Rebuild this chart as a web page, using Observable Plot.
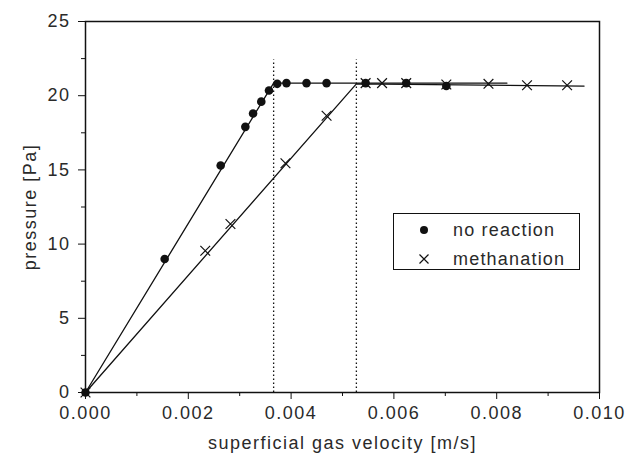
<!DOCTYPE html>
<html>
<head>
<meta charset="utf-8">
<script src="https://cdn.jsdelivr.net/npm/d3@7"></script>
<script src="https://cdn.jsdelivr.net/npm/@observablehq/plot@0.6"></script>
<style>
  html, body { margin: 0; padding: 0; background: #fff; }
  #wrap { position: relative; width: 633px; height: 455px; font-family: "Liberation Sans", Arial, sans-serif; }
  #wrap svg text { letter-spacing: 1.5px; }
  #legend { position: absolute; left: 393px; top: 213px; width: 185px; height: 55px; border: 1.5px solid #111; background: #fff; }
  .row { position: absolute; left: 0; height: 20px; font-size: 18px; color: #2a2a2a; line-height: 20px; letter-spacing: 1.2px; }
  .row svg { position: absolute; left: 22px; top: 2px; }
  .row span { position: absolute; left: 59px; top: 0; white-space: nowrap; }
</style>
</head>
<body>
<div id="wrap"></div>
<script>
// Measured points: no reaction
const noRxnV = [0, 0.00154, 0.00263, 0.00311, 0.00326, 0.00342, 0.00357, 0.00373, 0.00391, 0.00430, 0.00469, 0.00545, 0.00624, 0.00702];
const noRxnP = [0, 9.0, 15.3, 17.9, 18.8, 19.6, 20.35, 20.8, 20.85, 20.85, 20.85, 20.85, 20.85, 20.65];
// Measured points: methanation
const methV = [0, 0.00233, 0.00282, 0.00389, 0.00469, 0.00545, 0.00577, 0.00624, 0.00702, 0.00784, 0.00859, 0.00937];
const methP = [0, 9.55, 11.35, 15.45, 18.65, 20.85, 20.85, 20.85, 20.75, 20.8, 20.7, 20.7];
// Fit lines
const fitNoRxnV = [0, 0.00366, 0.0082];
const fitNoRxnP = [0, 20.85, 20.85];
const fitMethV = [0, 0.00527, 0.0097];
const fitMethP = [0, 20.8, 20.65];
// Minimum fluidization markers (dotted verticals)
const umfV = [0.00366, 0.00527];
const umfTop = 22.4;
// Ticks
const xMajor = [0, 0.002, 0.004, 0.006, 0.008, 0.010];
const xMinor = [0.001, 0.003, 0.005, 0.007, 0.009];
const yMajor = [0, 5, 10, 15, 20, 25];
const yMinor = [2.5, 7.5, 12.5, 17.5, 22.5];

const zip = (xs, ys) => xs.map((x, i) => ({x, y: ys[i]}));
const noRxn = zip(noRxnV, noRxnP);
const meth = zip(methV, methP);
const fitA = zip(fitNoRxnV, fitNoRxnP);
const fitB = zip(fitMethV, fitMethP);

const chart = Plot.plot({
  width: 633,
  height: 455,
  marginLeft: 85,
  marginRight: 34,
  marginTop: 21,
  marginBottom: 63,
  style: {fontFamily: "Liberation Sans, Arial, sans-serif", fontSize: "18px", color: "#2a2a2a", background: "#fff"},
  x: {domain: [0, 0.01]},
  y: {domain: [0, 25]},
  marks: [
    Plot.ruleX(umfV, {x: d => d, y1: 0, y2: umfTop, stroke: "#111", strokeWidth: 1.3, strokeDasharray: "1.5,2.5"}),
    Plot.line(fitA, {x: "x", y: "y", stroke: "#111", strokeWidth: 1.3}),
    Plot.line(fitB, {x: "x", y: "y", stroke: "#111", strokeWidth: 1.3}),
    Plot.dot(meth, {x: "x", y: "y", symbol: "times", r: 4.5, stroke: "#111", strokeWidth: 1.2}),
    Plot.dot(noRxn, {x: "x", y: "y", symbol: "circle", r: 4.3, fill: "#111", stroke: "none"}),
    Plot.axisX({ticks: xMinor, tickSize: 4, tickFormat: () => "", stroke: "#111", label: null}),
    Plot.axisX({ticks: xMajor, tickSize: 7, tickPadding: 7, tickFormat: d3.format(".3f"), stroke: "#111",
      label: "superficial gas velocity [m/s]", labelAnchor: "center", labelArrow: "none", labelOffset: 56}),
    Plot.axisY({ticks: yMinor, tickSize: 4, tickFormat: () => "", stroke: "#111", label: null}),
    Plot.axisY({ticks: yMajor, tickSize: 7, tickPadding: 8, stroke: "#111",
      label: "pressure [Pa]", labelAnchor: "center", labelArrow: "none", labelOffset: 62}),
    Plot.frame({stroke: "#111", strokeWidth: 1.5})
  ]
});
document.getElementById("wrap").appendChild(chart);

// Legend
const legend = document.createElement("div");
legend.id = "legend";
legend.innerHTML = `
  <div class="row" style="top:6px"><svg width="16" height="16"><circle cx="8" cy="8" r="4" fill="#111"/></svg><span>no reaction</span></div>
  <div class="row" style="top:35px"><svg width="16" height="16"><path d="M3.5,3.5L12.5,12.5M12.5,3.5L3.5,12.5" stroke="#111" stroke-width="1.2"/></svg><span>methanation</span></div>`;
document.getElementById("wrap").appendChild(legend);
</script>
</body>
</html>
